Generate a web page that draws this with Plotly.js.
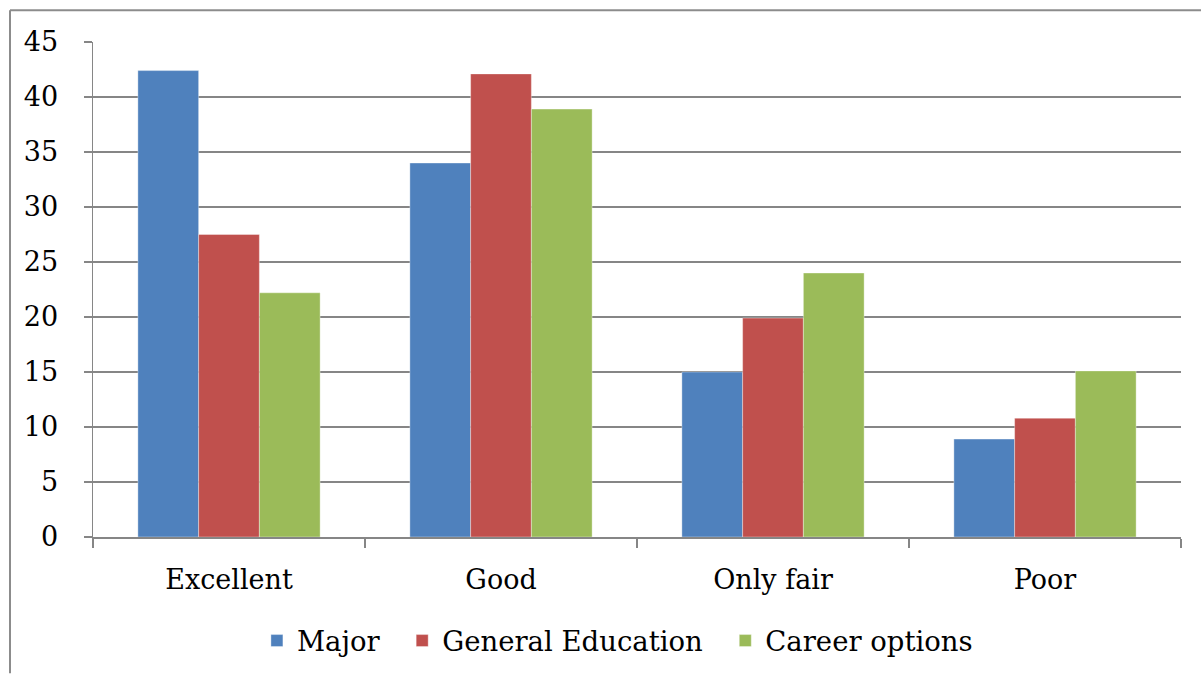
<!DOCTYPE html>
<html>
<head>
<meta charset="utf-8">
<script src="https://cdn.plot.ly/plotly-3.0.1.min.js"></script>
<style>html,body{margin:0;padding:0;background:#fff;}#chart{width:1201px;height:677px;}</style>
</head>
<body>
<div id="chart"></div>
<script>
const categories = ["Excellent", "Good", "Only fair", "Poor"];
const seriesNames = ["Major", "General Education", "Career options"];
const major = [42.4, 34.0, 15.0, 8.9];
const generalEducation = [27.5, 42.1, 19.9, 10.8];
const careerOptions = [22.2, 38.9, 24.0, 15.1];
const yTicks = [0, 5, 10, 15, 20, 25, 30, 35, 40, 45];
const colors = ["#4F81BD", "#C0504D", "#9BBB59"];
const values = [major, generalEducation, careerOptions];

const FONT = "DejaVu Serif, Liberation Serif, serif";
const PAD = "\u00a0\u00a0";
const traces = values.map((v, i) => ({
  type: "bar",
  name: seriesNames[i] + (i < seriesNames.length - 1 ? PAD : ""),
  x: categories,
  y: v,
  marker: {color: colors[i], line: {width: 0.6, color: "rgba(255,255,255,0.6)"}},
  hoverinfo: "x+y+name"
}));

const layout = {
  width: 1201, height: 677,
  margin: {l: 93, r: 20, t: 42, b: 137},
  paper_bgcolor: "#ffffff", plot_bgcolor: "#ffffff",
  font: {family: FONT, color: "#000", size: 27},
  barmode: "group",
  bargap: 0.33, bargroupgap: 0,
  showlegend: true,
  legend: {
    orientation: "h", x: 0.482, xanchor: "center", y: -0.16, yanchor: "top",
    font: {family: FONT, size: 27.5, color: "#000"},
    itemwidth: 30, tracegroupgap: 0
  },
  xaxis: {
    type: "category", tickson: "boundaries", ticks: "outside", ticklen: 9,
    tickcolor: "#868686", tickwidth: 1.5,
    showline: true, linecolor: "#868686", linewidth: 1.5,
    showgrid: false, ticklabelstandoff: 18,
    tickfont: {family: FONT, size: 27, color: "#000"}
  },
  yaxis: {
    range: [0, 45], tickvals: yTicks, ticktext: yTicks.map(String),
    ticks: "outside", ticklen: 8, tickcolor: "#868686", tickwidth: 1.5,
    showline: true, linecolor: "#868686", linewidth: 1.5,
    showgrid: true, gridcolor: "#868686", gridwidth: 2,
    zeroline: false, ticklabelstandoff: 20,
    tickfont: {family: FONT, size: 27, color: "#000"}
  },
  shapes: [
    {type: "line", xref: "paper", yref: "paper",
     x0: -83/1088, x1: -83/1088, y0: 1 + 32/498, y1: -137/498,
     line: {color: "#8c8c8c", width: 2}},
    {type: "line", xref: "paper", yref: "paper",
     x0: -83/1088, x1: 1 + 20/1088, y0: 1 + 32/498, y1: 1 + 32/498,
     line: {color: "#8c8c8c", width: 2}}
  ]
};

Plotly.newPlot("chart", traces, layout, {displayModeBar: false, staticPlot: true});
</script>
</body>
</html>
